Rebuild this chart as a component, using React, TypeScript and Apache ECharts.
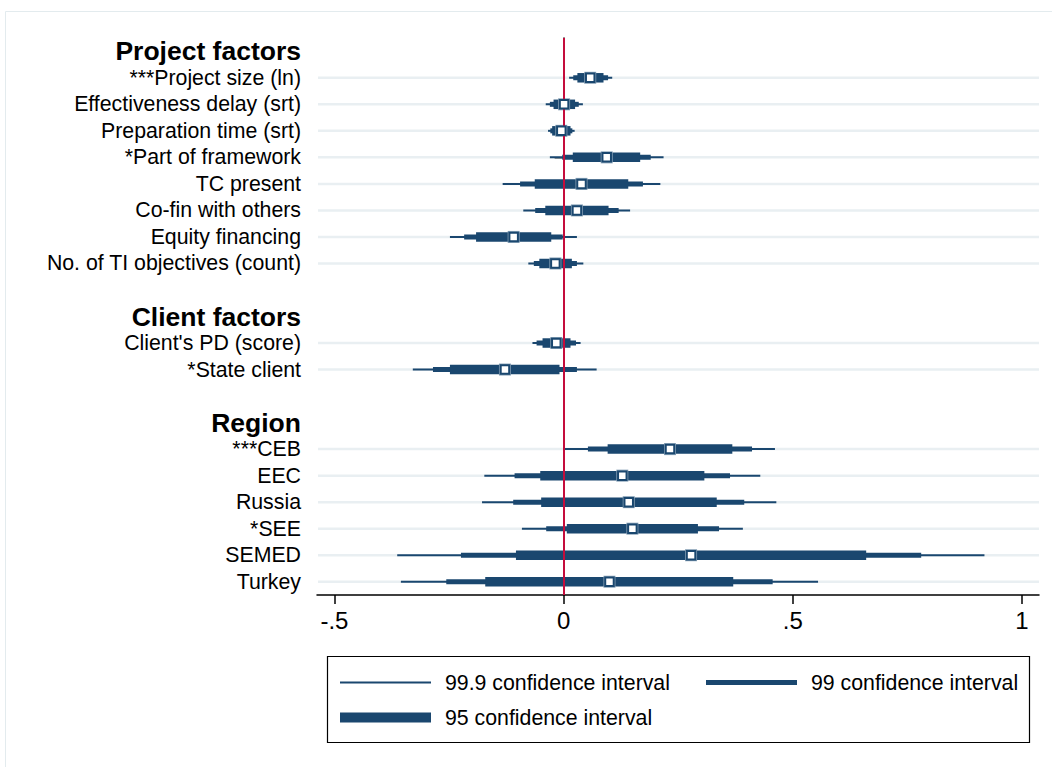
import React, { useEffect, useRef } from 'react';
import * as echarts from 'echarts';

const categories = [
  'Project factors',
  '***Project size (ln)',
  'Effectiveness delay (srt)',
  'Preparation time (srt)',
  '*Part of framework',
  'TC present',
  'Co-fin with others',
  'Equity financing',
  'No. of TI objectives (count)',
  ' ',
  'Client factors',
  "Client's PD (score)",
  '*State client',
  '  ',
  'Region',
  '***CEB',
  'EEC',
  'Russia',
  '*SEE',
  'SEMED',
  'Turkey',
];
const headerLabels = ['Project factors', 'Client factors', 'Region'];
const variables = [
  '***Project size (ln)',
  'Effectiveness delay (srt)',
  'Preparation time (srt)',
  '*Part of framework',
  'TC present',
  'Co-fin with others',
  'Equity financing',
  'No. of TI objectives (count)',
  "Client's PD (score)",
  '*State client',
  '***CEB',
  'EEC',
  'Russia',
  '*SEE',
  'SEMED',
  'Turkey',
];
const estimate = [0.058, 0.001, -0.005, 0.094, 0.039, 0.029, -0.109, -0.018, -0.016, -0.128, 0.232, 0.128, 0.142, 0.15, 0.278, 0.1];
const lo95 = [0.03, -0.022, -0.025, 0.02, -0.063, -0.04, -0.191, -0.053, -0.046, -0.248, 0.096, -0.051, -0.049, 0.007, -0.104, -0.171];
const hi95 = [0.087, 0.025, 0.015, 0.167, 0.141, 0.098, -0.027, 0.018, 0.015, -0.009, 0.368, 0.307, 0.334, 0.293, 0.66, 0.37];
const lo99 = [0.021, -0.03, -0.029, -0.003, -0.095, -0.062, -0.217, -0.065, -0.059, -0.285, 0.053, -0.107, -0.11, -0.038, -0.224, -0.256];
const hi99 = [0.097, 0.033, 0.019, 0.19, 0.173, 0.12, -0.002, 0.029, 0.027, 0.029, 0.411, 0.363, 0.394, 0.339, 0.78, 0.456];
const lo999 = [0.012, -0.039, -0.034, -0.03, -0.133, -0.088, -0.248, -0.077, -0.068, -0.329, 0.003, -0.173, -0.178, -0.091, -0.363, -0.355];
const hi999 = [0.106, 0.042, 0.024, 0.218, 0.211, 0.145, 0.029, 0.043, 0.037, 0.072, 0.461, 0.429, 0.464, 0.391, 0.918, 0.555];
const xTicks = [-0.5, 0, 0.5, 1];
const xTickLabels = ['-.5', '0', '.5', '1'];
const legendNames = ['99.9 confidence interval', '99 confidence interval', '95 confidence interval'];

const NAVY = '#1a476f';
const RED = '#c40d3c';
const GRIDC = '#e9eff2';
const FONT = '"Liberation Sans", Arial, Helvetica, sans-serif';

function makeBar(h: number) {
  return (params: any, api: any) => {
    const y = api.value(2);
    const p1 = api.coord([api.value(0), y]);
    const p2 = api.coord([api.value(1), y]);
    return {
      type: 'rect',
      shape: { x: p1[0], y: p1[1] - h / 2, width: p2[0] - p1[0], height: h },
      style: { fill: NAVY },
    };
  };
}

export default function App() {
  const ref = useRef<HTMLDivElement>(null);
  useEffect(() => {
    if (!ref.current) return;
    const chart = echarts.init(ref.current, null, { renderer: 'svg' });
    const barSeries = (name: string, lo: number[], hi: number[], h: number, z: number) => ({
      type: 'custom',
      name,
      z,
      itemStyle: { color: NAVY },
      renderItem: makeBar(h),
      encode: { x: [0, 1], y: 2 },
      data: variables.map((v, i) => [lo[i], hi[i], v]),
    });
    const legendBase = (name: string, left: number, top: number, h: number) => ({
      data: [{ name, icon: 'rect', itemStyle: { color: NAVY } }],
      left,
      top,
      padding: 0,
      itemWidth: 91,
      itemHeight: h,
      selectedMode: false,
      textStyle: { fontSize: 21.3, color: '#000', fontFamily: FONT, padding: [0, 0, 0, 9] },
    });
    chart.setOption({
      animation: false,
      backgroundColor: '#fff',
      textStyle: { fontFamily: FONT },
      grid: { left: 317, right: 13, top: 38, bottom: 172, containLabel: false },
      xAxis: {
        type: 'value',
        min: -0.538,
        max: 1.037,
        axisLine: { show: true, lineStyle: { color: '#000', width: 1.5 } },
        axisTick: { show: true, customValues: xTicks, length: 9, lineStyle: { color: '#000', width: 1.5 } },
        axisLabel: {
          customValues: xTicks,
          fontSize: 24,
          color: '#000',
          margin: 13,
          fontFamily: FONT,
          formatter: (v: number) => {
            const i = xTicks.findIndex((t) => Math.abs(t - v) < 1e-9);
            return i >= 0 ? xTickLabels[i] : '';
          },
        },
        splitLine: { show: false },
      },
      yAxis: {
        type: 'category',
        data: categories,
        inverse: true,
        boundaryGap: true,
        axisLine: { show: true, lineStyle: { color: '#000', width: 1.5 } },
        axisTick: {
          show: true,
          alignWithLabel: true,
          length: 9,
          interval: (index: number, value: string) => variables.includes(value),
          lineStyle: { color: '#000', width: 1.5 },
        },
        axisLabel: {
          interval: 0,
          margin: 16,
          formatter: (v: string) => {
            if (headerLabels.includes(v)) return '{h|' + v + '}';
            if (v.trim() === '') return '';
            return '{n|' + v + '}';
          },
          rich: {
            h: { fontSize: 26.5, fontWeight: 'bold', color: '#000', fontFamily: FONT },
            n: { fontSize: 21.3, color: '#000', fontFamily: FONT },
          },
        },
        splitLine: { show: false },
      },
      legend: [
        legendBase(legendNames[0], 340, 672, 2),
        legendBase(legendNames[1], 706, 672, 5),
        legendBase(legendNames[2], 340, 707, 10),
      ],
      graphic: [
        {
          type: 'rect',
          shape: { x: 5.5, y: 11.5, width: 1100, height: 800 },
          style: { fill: 'none', stroke: '#e3ebee', lineWidth: 1 },
          silent: true,
          z: -10,
        },
        {
          type: 'rect',
          shape: { x: 327.5, y: 656.5, width: 702, height: 86 },
          style: { fill: 'none', stroke: '#000', lineWidth: 1.2 },
          silent: true,
        },
      ],
      series: [
        {
          type: 'custom',
          name: 'grid',
          z: 1,
          silent: true,
          encode: { x: 0, y: 1 },
          data: variables.map((v) => [0, v]),
          renderItem: (params: any, api: any) => {
            const p = api.coord([0, api.value(1)]);
            const cs = params.coordSys;
            return {
              type: 'line',
              shape: { x1: cs.x + 1, y1: p[1], x2: cs.x + cs.width, y2: p[1] },
              style: { stroke: GRIDC, lineWidth: 2.5 },
            };
          },
        },
        barSeries(legendNames[0], lo999, hi999, 2, 2),
        barSeries(legendNames[1], lo99, hi99, 5, 2),
        barSeries(legendNames[2], lo95, hi95, 9.5, 2),
        {
          type: 'scatter',
          name: 'zero',
          z: 3,
          data: [],
          silent: true,
          markLine: {
            silent: true,
            symbol: ['none', 'none'],
            label: { show: false },
            lineStyle: { color: RED, width: 2, type: 'solid' },
            data: [{ xAxis: 0 }],
          },
        },
        {
          type: 'scatter',
          name: 'estimate-outline',
          z: 4,
          silent: true,
          symbol: 'rect',
          symbolSize: 12,
          itemStyle: { color: '#86a0b6', opacity: 1 },
          data: variables.map((v, i) => [estimate[i], v]),
        },
        {
          type: 'scatter',
          name: 'estimate',
          z: 5,
          symbol: 'rect',
          symbolSize: 8.5,
          itemStyle: { color: '#fff', borderColor: NAVY, borderWidth: 2, opacity: 1 },
          data: variables.map((v, i) => [estimate[i], v]),
        },
      ],
    });
    return () => chart.dispose();
  }, []);
  return (
    <div
      ref={ref}
      style={{ position: 'absolute', left: 0, top: 0, width: 1052, height: 767, background: '#fff' }}
    />
  );
}
